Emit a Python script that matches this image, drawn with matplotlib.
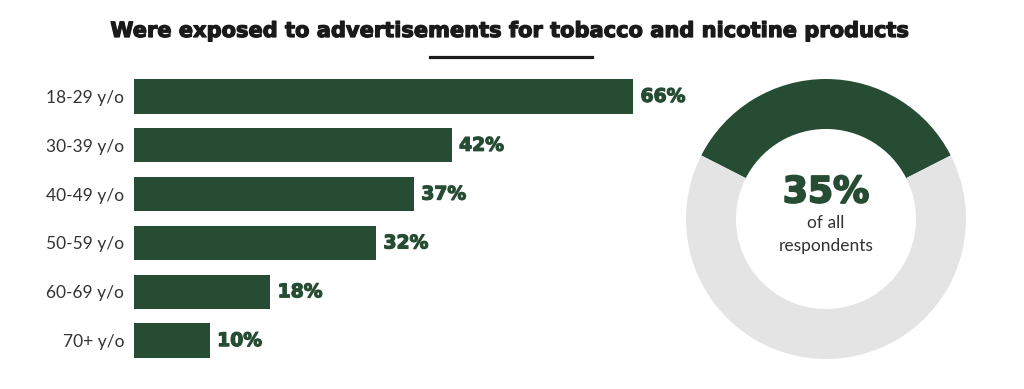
import matplotlib
matplotlib.use("Agg")
import matplotlib.pyplot as plt
import matplotlib.patheffects as pe
from matplotlib.lines import Line2D

# data
groups = ["18-29 y/o", "30-39 y/o", "40-49 y/o", "50-59 y/o", "60-69 y/o", "70+ y/o"]
values = [66, 42, 37, 32, 18, 10]
overall = 35
title = "Were exposed to advertisements for tobacco and nicotine products"

green = "#264d33"
grey = "#e4e4e4"
W, H = 1024, 389
heavy = ['DejaVu Sans']

plt.rcParams['font.family'] = ['Lato', 'DejaVu Sans']

def thick(c, w=0.9):
    return [pe.withStroke(linewidth=w, foreground=c)]

fig = plt.figure(figsize=(W / 100, H / 100), dpi=100)

# bars
ax = fig.add_axes([134 / W, (H - 365) / H, 600 / W, 293 / H])
ax.patch.set_alpha(0)
ypos = list(range(len(groups)))
ax.barh(ypos, values, height=0.7, color=green)
ax.set_ylim(len(groups) - 0.5, -0.5)
ax.set_xlim(0, 600 / 7.56)
ax.set_yticks(ypos)
ax.set_yticklabels(groups, fontsize=12.5, color="#333333")
ax.tick_params(axis="y", length=0, pad=7)
ax.set_xticks([])
for s in ax.spines.values():
    s.set_visible(False)
for y, v in zip(ypos, values):
    ax.text(v + 1.0, y, f"{v}%", va="center", ha="left", fontsize=13.5,
            fontweight="bold", family=heavy, color=green, path_effects=thick(green))

# donut
ax2 = fig.add_axes([686 / W, (H - 359) / H, 280 / W, 280 / H])
ax2.pie([overall, 100 - overall], colors=[green, grey], startangle=90 - overall * 1.8,
        counterclock=True, radius=1, wedgeprops=dict(width=0.357, linewidth=0))
ax2.set_xlim(-1, 1)
ax2.set_ylim(-1, 1)
ax2.set_aspect("equal")
ax2.axis("off")
ax2.text(0, 0.19, f"{overall}%", ha="center", va="center", fontsize=26,
         fontweight="bold", family=heavy, color=green, path_effects=thick(green, 1.4))
ax2.text(0, -0.03, "of all", ha="center", va="center", fontsize=12.5, color="#333333")
ax2.text(0, -0.19, "respondents", ha="center", va="center", fontsize=12.5, color="#333333")

# title + underline
fig.text(509.5 / W, 1 - 31 / H, title, ha="center", va="center", fontsize=15.1,
         fontweight="bold", family=heavy, color="#1a1a1a", path_effects=thick("#1a1a1a"))
fig.add_artist(Line2D([430 / W, 592 / W], [1 - 57 / H, 1 - 57 / H], color="#1a1a1a",
                      linewidth=2.3, transform=fig.transFigure))

fig.savefig("out.png", dpi=100, facecolor="white")
